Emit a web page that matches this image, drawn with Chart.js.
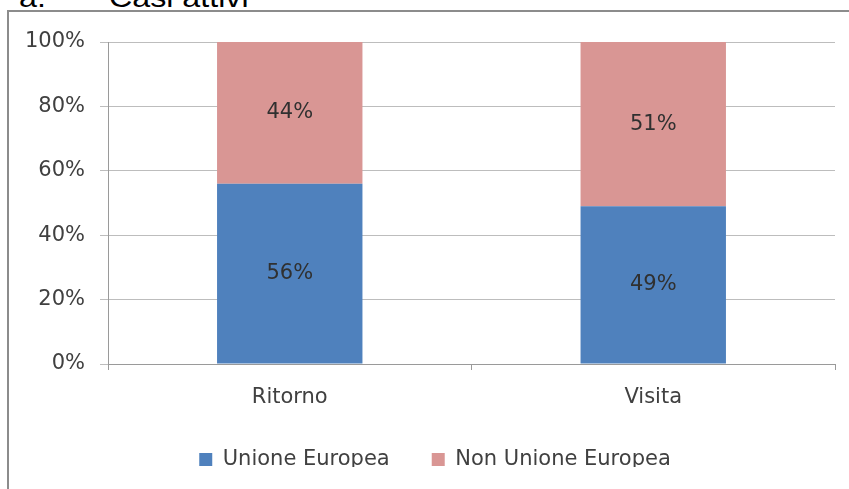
<!DOCTYPE html>
<html><head><meta charset="utf-8">
<script src="https://cdn.jsdelivr.net/npm/chart.js@4"></script>
<style>
html,body{margin:0;padding:0;background:#fff;overflow:hidden}
#wrap{position:relative;width:849px;height:489px;overflow:hidden}
#frame{position:absolute;left:7px;top:10px;width:900px;height:600px;border-left:2px solid #8c8c8c;border-top:2px solid #8c8c8c}
.t{position:absolute;top:-16px;font:28px "Liberation Sans",Arial,sans-serif;line-height:28px;color:#000;transform:scaleX(1.15);transform-origin:left;white-space:pre}
canvas{position:absolute;left:0;top:0}
</style></head><body>
<div id="wrap">
<div class="t" style="left:19px">a.</div>
<div class="t" style="left:109px">Casi attivi</div>
<div id="frame"></div>
<canvas id="c" width="849" height="489"></canvas>
</div>
<script>
const categories = ["Ritorno", "Visita"];
const seriesNames = ["Unione Europea", "Non Unione Europea"];
const unioneEuropea = [56, 49];
const nonUnioneEuropea = [44, 51];
const yTickValues = [0, 20, 40, 60, 80, 100];
const colors = ["#4F81BD", "#D99694"];

const FONT = "'DejaVu Sans', sans-serif";
const FS = 21;
const TXT = "#404040";

const dataLabels = {
  id: "dataLabels",
  afterDatasetsDraw(chart) {
    const ctx = chart.ctx;
    ctx.save();
    ctx.font = FS + "px " + FONT;
    ctx.fillStyle = "#303030";
    ctx.textAlign = "center";
    ctx.textBaseline = "middle";
    chart.data.datasets.forEach((ds, i) => {
      chart.getDatasetMeta(i).data.forEach((el, j) => {
        ctx.fillText(Math.round(ds.data[j]) + "%", el.x, (el.y + el.base) / 2);
      });
    });
    ctx.restore();
  }
};

// let y tick labels extend left of the axis box without being clipped
const noLabelClip = {
  id: "noLabelClip",
  beforeDraw(chart) {
    const s = chart.scales.y;
    if (s) s._computeLabelArea = () => undefined;
  }
};

new Chart(document.getElementById("c"), {
  type: "bar",
  data: {
    labels: categories,
    datasets: [
      { label: seriesNames[0], data: unioneEuropea, backgroundColor: colors[0], borderWidth: 0 },
      { label: seriesNames[1], data: nonUnioneEuropea, backgroundColor: colors[1], borderWidth: 0 }
    ]
  },
  options: {
    responsive: false,
    animation: false,
    devicePixelRatio: 1,
    layout: { padding: { top: 42, left: 35, right: 14, bottom: 22 } },
    datasets: { bar: { categoryPercentage: 1.0, barPercentage: 0.4 } },
    scales: {
      x: {
        stacked: true,
        grid: { display: true, drawOnChartArea: false, offset: true, tickLength: 6, color: "#9a9a9a" },
        border: { display: true, color: "#9a9a9a", width: 1 },
        ticks: { color: TXT, font: { family: FONT, size: FS }, padding: 15, maxRotation: 0 },
        afterFit(s) { s.height = 43; }
      },
      y: {
        stacked: true,
        min: 0, max: 100,
        afterBuildTicks(s) { s.ticks = yTickValues.map(v => ({ value: v })); },
        grid: { color: "#bdbdbd", tickLength: 8 },
        border: { display: true, color: "#9a9a9a", width: 1 },
        ticks: { color: TXT, font: { family: FONT, size: FS }, padding: 15, callback: v => v + "%" },
        afterFit(s) { s.width = 73; }
      }
    },
    plugins: {
      legend: {
        position: "bottom",
        maxHeight: 60,
        labels: { boxWidth: 13, boxHeight: 13, padding: 42, color: TXT, font: { family: FONT, size: FS } }
      },
      tooltip: { enabled: false }
    }
  },
  plugins: [dataLabels, noLabelClip]
});
</script>
</body></html>
